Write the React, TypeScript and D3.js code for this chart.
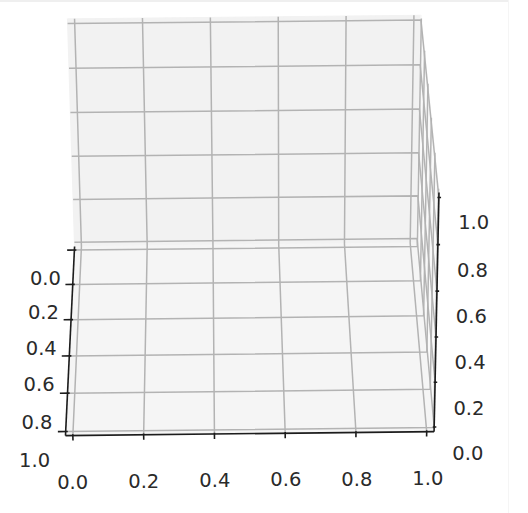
import React from 'react';
import * as d3 from 'd3';

// ---- data (tick values & labels) ----
const xTicks = [0, 0.2, 0.4, 0.6, 0.8, 1.0];
const yTicks = [0, 0.2, 0.4, 0.6, 0.8, 1.0];
const zTicks = [0, 0.2, 0.4, 0.6, 0.8, 1.0];
const xTickLabels = ['0.0', '0.2', '0.4', '0.6', '0.8', '1.0'];
const yTickLabels = ['0.0', '0.2', '0.4', '0.6', '0.8', '1.0'];
const zTickLabels = ['0.0', '0.2', '0.4', '0.6', '0.8', '1.0'];

// ---- view / camera parameters ----
const W = 528;
const H = 513;
const ELEV = 30.5; // degrees
const YAW = -0.44; // degrees
const ROLL = 0.38; // degrees
const DIST = 12;
const SCALE = 346.5;
const CX = 247;
const CY = 221;
const M = 1 / 48; // pane margin (data units)
const LABEL_OFF = 0.09;
const LABEL_DY = 9;

const xS = d3.scaleLinear().domain([0, 1]).range([-0.5, 0.5]);
const dS = d3.scaleLinear().domain([0, 1]).range([0.5, -0.5]);
const zS = d3.scaleLinear().domain([0, 1]).range([-0.375, 0.375]);

const rad = Math.PI / 180;
const sE = Math.sin(ELEV * rad), cE = Math.cos(ELEV * rad);
const sP = Math.sin(YAW * rad), cP = Math.cos(YAW * rad);
const sR = Math.sin(ROLL * rad), cR = Math.cos(ROLL * rad);

function proj(X: number, d: number, Z: number): [number, number] {
  const px = xS(X), pd = dS(d), pz = zS(Z);
  const xr = px * cP + pd * sP;
  const dr = -px * sP + pd * cP;
  const cy = dr * sE + pz * cE;
  const cz = dr * cE - pz * sE;
  const f = DIST / (DIST + cz);
  return [CX + SCALE * f * (xr * cR - cy * sR), CY - SCALE * f * (xr * sR + cy * cR)];
}

const line = d3.line<[number, number]>();
const poly = (pts: [number, number, number][]) => line(pts.map((p) => proj(p[0], p[1], p[2])))! + 'Z';
const pl = (pts: [number, number, number][]) => line(pts.map((p) => proj(p[0], p[1], p[2])))!;

const lo = -M, hi = 1 + M;

export default function App() {
  const gridColor = '#b3b3b3';
  const axisColor = '#1c1c1c';
  const font = { fontFamily: '"DejaVu Sans", sans-serif', fontSize: 19.5, fill: '#2a2a2a' };

  return (
    <svg width={W} height={H} style={{ position: 'absolute', left: 0, top: 0, background: '#fff' }}>
      <rect x={0} y={0} width={W} height={H} fill="#ffffff" />
      <line x1={0} y1={1} x2={508} y2={1} stroke="#efefef" strokeWidth={2} />
      <line x1={508.5} y1={0} x2={508.5} y2={H} stroke="#f5f5f5" strokeWidth={1} />

      {/* panes */}
      <path d={poly([[lo, lo, lo], [hi, lo, lo], [hi, lo, hi], [lo, lo, hi]])} fill="#f2f2f2" stroke="#f2f2f2" />
      <path d={poly([[lo, lo, lo], [hi, lo, lo], [hi, hi, lo], [lo, hi, lo]])} fill="#f5f5f5" stroke="#f5f5f5" />
      <path d={poly([[hi, lo, lo], [hi, hi, lo], [hi, hi, hi], [hi, lo, hi]])} fill="#f9f9f9" stroke="#f9f9f9" />

      {/* grid lines */}
      <g stroke={gridColor} strokeWidth={1.5} fill="none">
        {xTicks.map((t, i) => (
          <path key={'gx' + i} d={pl([[t, hi, lo], [t, lo, lo], [t, lo, hi]])} />
        ))}
        {yTicks.map((t, i) => (
          <path key={'gy' + i} d={pl([[lo, t, lo], [hi, t, lo], [hi, t, hi]])} />
        ))}
        {zTicks.map((t, i) => (
          <path key={'gz' + i} d={pl([[lo, lo, t], [hi, lo, t], [hi, hi, t]])} />
        ))}
      </g>

      {/* axis lines */}
      <g stroke={axisColor} strokeWidth={1.6} fill="none">
        <path d={pl([[lo, hi, lo], [hi, hi, lo]])} />
        <path d={pl([[lo, lo, lo], [lo, hi, lo]])} />
        <path d={pl([[hi, hi, lo], [hi, hi, hi]])} />
        {xTicks.map((t, i) => (
          <path key={'tx' + i} d={pl([[t, hi, lo + 0.006], [t, hi, lo - 0.022]])} />
        ))}
        {yTicks.map((t, i) => (
          <path key={'ty' + i} d={pl([[lo + 0.006, t, lo], [lo - 0.022, t, lo]])} />
        ))}
        {zTicks.map((t, i) => (
          <path key={'tz' + i} d={pl([[hi - 0.004, hi, t], [hi + 0.006, hi, t]])} />
        ))}
      </g>

      {/* tick labels */}
      <g style={font} textAnchor="middle" dominantBaseline="central">
        {xTicks.map((t, i) => {
          const [x, y] = proj(t, hi + LABEL_OFF, lo - LABEL_OFF);
          return (
            <text key={'lx' + i} x={x} y={y + LABEL_DY}>
              {xTickLabels[i]}
            </text>
          );
        })}
        {yTicks.map((t, i) => {
          const [x, y] = proj(lo - LABEL_OFF, t, lo - LABEL_OFF);
          return (
            <text key={'ly' + i} x={x} y={y + LABEL_DY}>
              {yTickLabels[i]}
            </text>
          );
        })}
        {zTicks.map((t, i) => {
          const [x, y] = proj(hi + LABEL_OFF, hi + LABEL_OFF, t);
          return (
            <text key={'lz' + i} x={x} y={y + LABEL_DY}>
              {zTickLabels[i]}
            </text>
          );
        })}
      </g>
    </svg>
  );
}
